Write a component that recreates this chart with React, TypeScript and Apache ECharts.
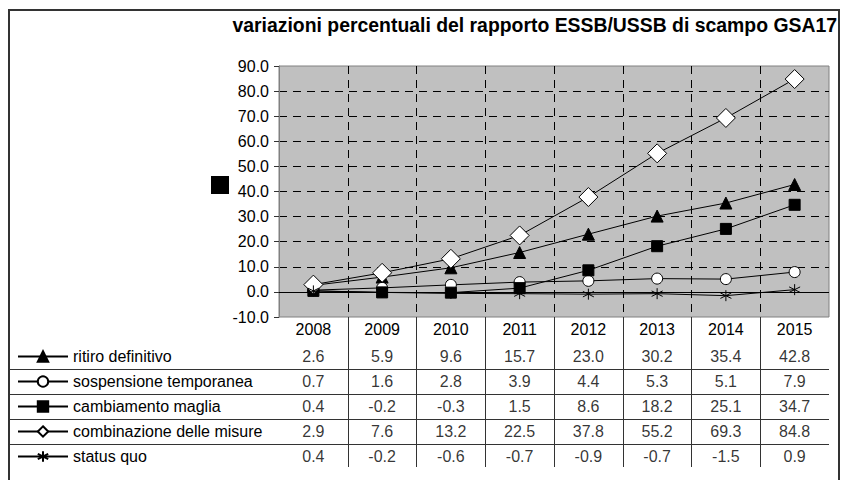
import React, { useEffect, useRef } from "react";
import * as echarts from "echarts";

const years = ["2008", "2009", "2010", "2011", "2012", "2013", "2014", "2015"];
const ritiro = [2.6, 5.9, 9.6, 15.7, 23.0, 30.2, 35.4, 42.8];
const sospensione = [0.7, 1.6, 2.8, 3.9, 4.4, 5.3, 5.1, 7.9];
const cambiamento = [0.4, -0.2, -0.3, 1.5, 8.6, 18.2, 25.1, 34.7];
const combinazione = [2.9, 7.6, 13.2, 22.5, 37.8, 55.2, 69.3, 84.8];
const statusQuo = [0.4, -0.2, -0.6, -0.7, -0.9, -0.7, -1.5, 0.9];
const seriesNames = [
  "ritiro definitivo",
  "sospensione temporanea",
  "cambiamento maglia",
  "combinazione delle misure",
  "status quo",
];
const seriesValues = [ritiro, sospensione, cambiamento, combinazione, statusQuo];
const titleText = "variazioni percentuali del rapporto ESSB/USSB di scampo GSA17";

const FONT = "'Liberation Sans', Arial, sans-serif";
const ASTERISK = "path://M5,0 L5,10 M0.67,2.5 L9.33,7.5 M0.67,7.5 L9.33,2.5";

// layout
const PLOT_LEFT = 279;
const PLOT_RIGHT = 829;
const PLOT_TOP = 66;
const PLOT_BOTTOM = 317;
const ROW_H = 25;
const ROW0 = 356.5;
const FS = 16;
const LEG_H = 16;

const symbols = [
  { symbol: "triangle", size: 12, fill: "#000" },
  { symbol: "circle", size: 11, fill: "#fff" },
  { symbol: "rect", size: 11, fill: "#000" },
  { symbol: "diamond", size: 19, fill: "#fff" },
  { symbol: ASTERISK, size: 11, fill: "#000" },
];

export default function App() {
  const ref = useRef<HTMLDivElement>(null);
  useEffect(() => {
    if (!ref.current) return;
    const chart = echarts.init(ref.current, null, { renderer: "svg" });

    const lineSeries = seriesValues.map((vals, k) => ({
      name: seriesNames[k],
      type: "line",
      xAxisIndex: 0,
      yAxisIndex: 0,
      data: vals,
      symbol: symbols[k].symbol,
      symbolSize: symbols[k].size,
      showAllSymbol: true,
      lineStyle: { color: "#000", width: 1 },
      itemStyle: { color: symbols[k].fill, borderColor: "#000", borderWidth: 1 },
      z: 3 + k,
      ...(k === 0
        ? {
            markLine: {
              silent: true,
              symbol: ["none", "none"],
              label: { show: false },
              lineStyle: { color: "#000", type: "solid", width: 1 },
              data: [{ yAxis: 0 }],
            },
          }
        : {}),
    }));

    const tableData: any[] = [];
    seriesValues.forEach((vals, k) => {
      vals.forEach((v, i) => tableData.push([i, k, v]));
    });

    const yMin2 = -(ROW0 - PLOT_BOTTOM) / ROW_H;
    const tableBottom = 467;
    const yMax2 = yMin2 + (tableBottom - PLOT_BOTTOM) / ROW_H;

    const hLines = seriesNames.slice(1).map((_, k) => {
      const y = Math.round(ROW0 + ROW_H * (k + 0.5)) + 0.5;
      return {
        type: "line",
        shape: { x1: 10, y1: y, x2: PLOT_RIGHT, y2: y },
        style: { stroke: "#333", lineWidth: 1 },
        silent: true,
      };
    });

    chart.setOption({
      animation: false,
      textStyle: { fontFamily: FONT },
      title: {
        text: titleText,
        right: 5,
        top: 15,
        padding: 0,
        textStyle: { fontSize: 19.4, fontWeight: "bold", color: "#000", fontFamily: FONT },
      },
      legend: {
        data: seriesNames,
        orient: "vertical",
        left: 17,
        top: ROW0 - LEG_H / 2,
        padding: 0,
        itemWidth: 50,
        itemHeight: 13,
        itemGap: ROW_H - LEG_H,
        selectedMode: false,
        textStyle: { fontSize: FS, lineHeight: LEG_H, color: "#000", fontFamily: FONT },
      },
      grid: [
        {
          left: PLOT_LEFT,
          right: 842 - PLOT_RIGHT,
          top: PLOT_TOP,
          height: PLOT_BOTTOM - PLOT_TOP,
          show: true,
          backgroundColor: "#C0C0C0",
          borderColor: "#808080",
          borderWidth: 1,
        },
        {
          left: PLOT_LEFT,
          right: 842 - PLOT_RIGHT,
          top: PLOT_BOTTOM,
          height: tableBottom - PLOT_BOTTOM,
          show: false,
        },
      ],
      xAxis: [
        {
          type: "category",
          gridIndex: 0,
          data: years,
          boundaryGap: true,
          axisLine: { show: false, onZero: false },
          axisTick: { show: false },
          axisLabel: { fontSize: FS, color: "#000", margin: 4, fontFamily: FONT },
          splitLine: {
            show: true,
            showMinLine: false,
            showMaxLine: false,
            lineStyle: { color: "#000", type: [8, 6], width: 1 },
          },
        },
        {
          type: "category",
          gridIndex: 1,
          data: years,
          boundaryGap: true,
          axisLine: { show: false },
          axisTick: { show: false },
          axisLabel: { show: false },
          splitLine: {
            show: true,
            showMinLine: false,
            showMaxLine: false,
            lineStyle: { color: "#333", type: "solid", width: 1 },
          },
        },
      ],
      yAxis: [
        {
          type: "value",
          gridIndex: 0,
          min: -10,
          max: 90,
          interval: 10,
          axisLine: { show: true, lineStyle: { color: "#808080" } },
          axisTick: { show: true, length: 5, lineStyle: { color: "#333" } },
          axisLabel: {
            fontSize: FS,
            color: "#000",
            margin: 10,
            fontFamily: FONT,
            formatter: (v: number) => v.toFixed(1),
          },
          splitLine: {
            show: true,
            showMinLine: false,
            showMaxLine: false,
            lineStyle: { color: "#000", type: [8, 6], width: 1 },
          },
        },
        {
          type: "value",
          gridIndex: 1,
          min: yMin2,
          max: yMax2,
          inverse: true,
          show: false,
          splitLine: { show: false },
        },
      ],
      graphic: [
        {
          type: "rect",
          shape: { x: 9, y: 10, width: 830, height: 480 },
          style: { fill: "none", stroke: "#333", lineWidth: 2 },
          silent: true,
          z: -1,
        },
        {
          type: "rect",
          shape: { x: 211, y: 176, width: 18, height: 18 },
          style: { fill: "#000" },
          silent: true,
        },
        ...hLines,
      ],
      series: [
        ...lineSeries,
        {
          name: "tabella",
          type: "scatter",
          xAxisIndex: 1,
          yAxisIndex: 1,
          data: tableData,
          symbol: "circle",
          symbolSize: 1,
          silent: true,
          itemStyle: { color: "rgba(0,0,0,0)" },
          label: {
            show: true,
            position: "inside",
            fontSize: FS,
            color: "#000",
            fontFamily: FONT,
            formatter: (p: any) => Number(p.value[2]).toFixed(1),
          },
        },
      ],
    });
    return () => chart.dispose();
  }, []);
  return (
    <div
      ref={ref}
      style={{ position: "absolute", left: 0, top: 0, width: 842, height: 480, background: "#fff" }}
    />
  );
}
